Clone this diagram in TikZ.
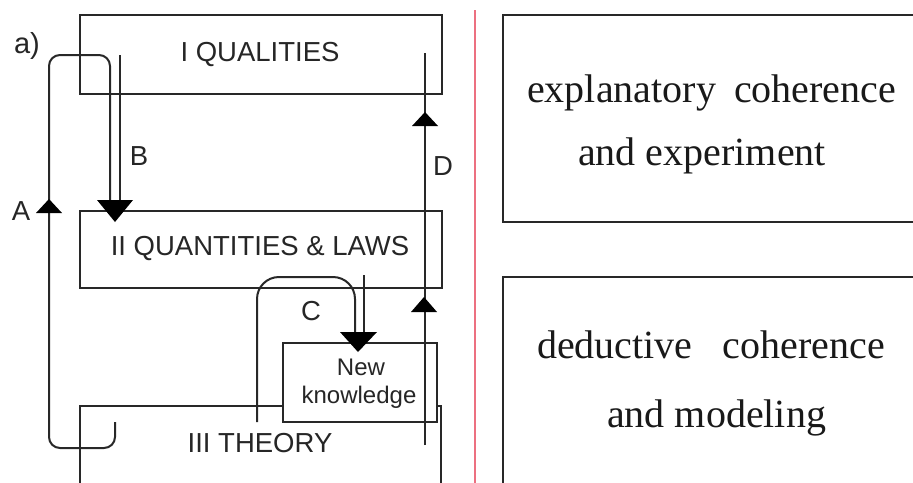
\documentclass[tikz,border=0pt]{standalone}
\usepackage{fontspec}
\setmainfont{Liberation Serif}
\newfontfamily\arialf{Liberation Sans}
\definecolor{redline}{RGB}{236,112,128}
\definecolor{ink}{RGB}{40,40,40}
\begin{document}
\begin{tikzpicture}[x=1pt,y=-1pt,
  boxline/.style={draw=ink, line width=2pt},
  conn/.style={draw=ink, line width=2pt},
  head/.style={fill=black},
  lab/.style={font=\arialf\fontsize{27.5}{30}\selectfont, inner sep=0pt, text=black!85},
  small/.style={font=\arialf\fontsize{24}{26}\selectfont, inner sep=0pt, text=black!85},
  serif/.style={font=\fontsize{40}{44}\selectfont, inner sep=0pt, anchor=base west, text=black!90}]
\clip (0,0) rectangle (913,482);
\fill[white] (0,0) rectangle (913,482);

% left boxes
\draw[boxline] (80,15) rectangle (442,94);
\draw[boxline] (80,211) rectangle (442,288);
\draw[boxline] (80,406) rectangle (441,500);
\node[lab] (q1) at (260,54) {I QUALITIES};
\node[lab] (q2) at (260,248) {II QUANTITIES \& LAWS};
\node[lab] (q3) at (260,443) {III THEORY};

% new knowledge box
\draw[boxline, fill=white] (283,343) rectangle (437,422);
\node[small] (nk1) at (361,367) {New};
\node[small] (nk2) at (359,397) {knowledge};

\node[lab, font=\arialf\fontsize{29}{31}\selectfont] (la) at (27,46) {a)};

% loop A (and left line of B)
\coordinate (aS) at (115,422);
\coordinate (aE) at (110,200);
\draw[conn, rounded corners=11pt] (aS) -- (115,448) -- (49,448) -- (49,55) -- (110,55) -- (aE);
\fill[head] (49,199) -- (36,213) -- (62,213) -- cycle;
\node[lab] (la2) at (21,211) {A};

% B right line
\coordinate (bS) at (120,55);
\coordinate (bE) at (120,200);
\draw[conn] (bS) -- (bE);
\fill[head] (97,200) -- (133,200) -- (115,222) -- cycle;
\node[lab] (lb) at (139,156) {B};

% loop C
\coordinate (cS) at (257,422);
\coordinate (cE) at (355,332);
\draw[conn, rounded corners=22pt] (cS) -- (257,277) -- (355,277) -- (cE);
\coordinate (c2S) at (364,275);
\coordinate (c2E) at (364,332);
\draw[conn] (c2S) -- (c2E);
\fill[head] (340,332) -- (377,332) -- (358,352) -- cycle;
\node[lab] (lc) at (311,311) {C};

% line D
\coordinate (dS) at (425,445);
\coordinate (dE) at (425,53);
\draw[conn] (dS) -- (dE);
\fill[head] (425,112) -- (412,126) -- (438,126) -- cycle;
\fill[head] (424,297) -- (411,312) -- (437,312) -- cycle;
\node[lab] (ld) at (443,166) {D};

% red separator
\draw[redline, line width=2pt] (475,10) -- (475,490);

% right boxes
\draw[boxline, line width=2.2pt] (503,15) rectangle (930,222);
\draw[boxline, line width=2.2pt] (503,277) rectangle (930,520);
\node[serif] (r1) at (527,102) {explanatory\hspace{0.45em}coherence};
\node[serif] (r2) at (578,165) {and experiment};
\node[serif] (r3) at (537,358) {deductive\hspace{0.75em}coherence};
\node[serif] (r4) at (607,427) {and modeling};
\end{tikzpicture}
\end{document}
